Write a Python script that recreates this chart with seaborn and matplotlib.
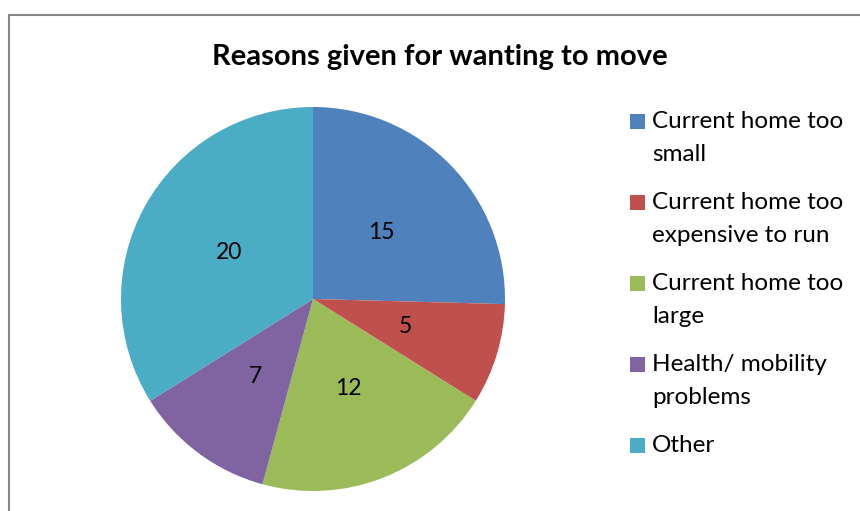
import matplotlib
matplotlib.use("Agg")
import matplotlib.pyplot as plt
from matplotlib.patches import Rectangle
import seaborn as sns

# Data
reasons = [
    "Current home too\nsmall",
    "Current home too\nexpensive to run",
    "Current home too\nlarge",
    "Health/ mobility\nproblems",
    "Other",
]
counts = [15, 5, 12, 7, 20]
colors = ["#4F81BD", "#C0504D", "#9BBB59", "#8064A2", "#4BACC6"]

sns.set_style("white")
plt.rcParams["font.family"] = ["Lato", "DejaVu Sans"]
plt.rcParams["text.color"] = "black"

W, H = 860, 511
fig = plt.figure(figsize=(W / 100, H / 100), dpi=100)

# Pie axes: centre ~(313, 299) px, radius ~192 px
cx, cy, r = 313, 299, 192
ax = fig.add_axes([(cx - r) / W, (H - cy - r) / H, 2 * r / W, 2 * r / H])

wedges, texts = ax.pie(
    counts,
    colors=colors,
    startangle=90,
    counterclock=False,
    labels=[str(c) for c in counts],
    labeldistance=0.5,
    wedgeprops=dict(linewidth=0),
    textprops=dict(fontsize=16.5, color="black", ha="center", va="center"),
)
ax.set_xlim(-1, 1)
ax.set_ylim(-1, 1)
ax.set_aspect("equal")
ax.axis("off")

# Title
fig.text(440 / W, 1 - 65 / H, "Reasons given for wanting to move",
         ha="center", va="baseline", fontsize=21, fontweight="bold",
         color="black")

# Legend, laid out like the Excel one: swatch beside the first line
def px(x, y):
    return x / W, 1 - y / H

base = 128
for label, color in zip(reasons, colors):
    x0, y0 = px(630, base + 1)
    fig.patches.append(Rectangle((x0, y0), 15 / W, 15 / H,
                                 transform=fig.transFigure,
                                 facecolor=color, edgecolor="none"))
    lines = label.split("\n")
    for i, line in enumerate(lines):
        fig.text(*px(652, base + 33 * i), line, ha="left", va="baseline",
                 fontsize=17.5, color="black")
    base += 33 * (len(lines) - 1) + 48

# Chart border (clipped at right/bottom edges as in the reference)
fig.patches.append(Rectangle((8.5 / W, -0.1), 1.2, 1.1 - 14.5 / H,
                             transform=fig.transFigure, fill=False,
                             edgecolor="#868686", linewidth=1.5))

fig.savefig("out.png", dpi=100)
